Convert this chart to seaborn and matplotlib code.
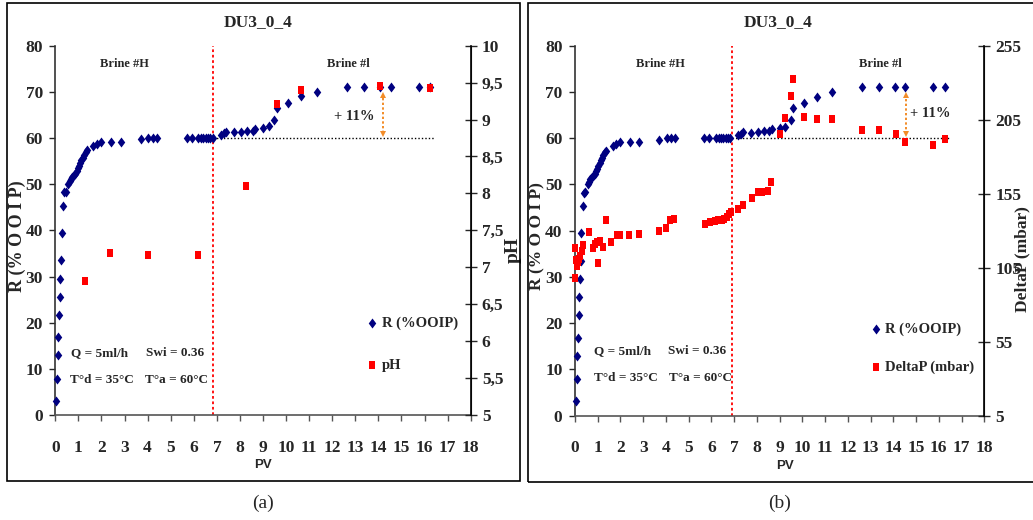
import matplotlib
matplotlib.use("Agg")
import matplotlib.pyplot as plt
import seaborn as sns
import pandas as pd
from matplotlib.patches import Rectangle
from matplotlib.path import Path

# ---------------- data ----------------
pv_r = [0.04, 0.07, 0.10, 0.13, 0.16, 0.19, 0.22, 0.25, 0.27, 0.33, 0.39, 0.45,
        0.56, 0.62, 0.68, 0.74, 0.80, 0.86, 0.92, 0.98, 1.03, 1.08, 1.13, 1.18, 1.25, 1.32, 1.38,
        1.65, 1.79, 1.98, 2.40, 2.83, 3.70, 4.03, 4.22, 4.39, 5.69, 5.91, 6.20, 6.32, 6.42,
        6.52, 6.62, 6.72, 6.82,
        7.18, 7.30, 7.40, 7.76, 8.03, 8.30, 8.55, 8.66, 9.00, 9.25, 9.49, 9.60, 10.08, 10.63,
        11.32, 12.63, 13.38, 14.08, 14.53, 15.76, 16.25]
r_ooip = [3.1, 7.9, 12.9, 16.8, 21.7, 25.6, 29.5, 33.5, 39.4, 45.3, 48.2, 48.4,
          50.1, 50.6, 51.1, 51.5, 51.9, 52.3, 52.8, 53.4, 54.0, 54.6, 55.2, 55.7, 56.3, 56.9, 57.3,
          58.3, 58.7, 59.2, 59.1, 59.1, 59.7, 60.0, 60.0, 60.0, 60.0, 60.0, 60.0, 60.0, 60.0,
          60.0, 60.0, 60.0, 60.0,
          60.7, 61.0, 61.3, 61.2, 61.3, 61.5, 61.6, 62.0, 62.2, 62.5, 64.0, 66.5, 67.5, 69.0,
          70.0, 71.0, 71.0, 71.0, 71.0, 71.0, 71.0]

pv_ph = [1.30, 2.38, 4.00, 6.17, 8.25, 9.59, 10.63, 14.08, 16.23]
ph = [6.81, 7.19, 7.16, 7.16, 8.10, 9.21, 9.40, 9.45, 9.43]

pv_dp = [0.00, 0.00, 0.03, 0.08, 0.12, 0.18, 0.22, 0.29, 0.37, 0.63, 0.80, 0.88, 0.95, 0.99,
         1.10, 1.25, 1.36, 1.58, 1.83, 1.98, 2.39, 2.83, 3.71, 4.00, 4.18, 4.37,
         5.72, 5.94, 6.16, 6.30, 6.45, 6.55, 6.67, 6.79, 6.86,
         7.18, 7.40, 7.77, 8.03, 8.24, 8.50, 8.62,
         9.01, 9.23, 9.48, 9.60, 10.08, 10.63, 11.32, 12.63, 13.38, 14.10, 14.51, 15.76, 16.27]
dp = [98, 118, 110, 106, 109, 111, 113, 116, 120, 129, 118, 121, 122, 108,
      123, 119, 137, 122, 127, 127, 127, 128, 129.5, 132, 137, 138,
      134.5, 135.6, 136.8, 137.2, 137.4, 138, 139.5, 141.3, 142.4,
      144.7, 147.6, 152, 156.4, 156.4, 157, 162.6,
      195.3, 206.1, 221.2, 232.5, 207, 205.5, 205.5, 198, 198, 195.3, 190.1, 188.1, 192]

x_ticks = list(range(0, 19))
r_ticks = [0, 10, 20, 30, 40, 50, 60, 70, 80]
ph_ticks = [5, 5.5, 6, 6.5, 7, 7.5, 8, 8.5, 9, 9.5, 10]
ph_tick_labels = ["5", "5,5", "6", "6,5", "7", "7,5", "8", "8,5", "9", "9,5", "10"]
dp_ticks = [5, 55, 105, 155, 205, 255]
dp_tick_labels = ["5", "55", "105", "155", "205", "255"]

df_r = pd.DataFrame({"PV": pv_r, "R": r_ooip})
df_ph = pd.DataFrame({"PV": pv_ph, "pH": ph})
df_dp = pd.DataFrame({"PV": pv_dp, "DeltaP": dp})

# ---------------- style ----------------
sns.set_style("ticks")
plt.rcParams["font.family"] = ["Liberation Serif", "DejaVu Serif"]
plt.rcParams["font.weight"] = "bold"

W, H = 1033, 520
fig = plt.figure(figsize=(W / 100, H / 100), dpi=100)

NAVY = "#000080"
RED = "#FF0000"
ORANGE = "#F28C28"
diamond = Path([(0, 1), (0.75, 0), (0, -1), (-0.75, 0), (0, 1)])
square = Path([(-0.85, -1), (0.85, -1), (0.85, 1), (-0.85, 1), (-0.85, -1)])


def axes_rect(l, r, b, t):
    return [l / W, 1 - b / H, (r - l) / W, (b - t) / H]


def setup_panel(rect, right_df, right_col, right_lim, right_ticks, right_labels, right_name,
                leg_label, cfg):
    ax = fig.add_axes(rect)
    sns.scatterplot(data=df_r, x="PV", y="R", ax=ax, marker=diamond, s=52, color=NAVY,
                    linewidth=0, clip_on=False, zorder=3, label="R (%OOIP)", legend=False)
    ax2 = ax.twinx()
    sns.scatterplot(data=right_df, x="PV", y=right_col, ax=ax2, marker=square, s=34, color=RED,
                    linewidth=0, clip_on=False, zorder=4, label=leg_label, legend=False)

    ax.set_xlim(0, 18)
    ax.set_ylim(0, 80)
    ax2.set_ylim(*right_lim)
    ax.set_xticks(x_ticks)
    ax.set_xticklabels([str(t) for t in x_ticks])
    ax.set_yticks(r_ticks)
    ax2.set_yticks(right_ticks)
    ax2.set_yticklabels(right_labels)

    for a in (ax, ax2):
        a.spines["top"].set_visible(False)
    ax.spines["left"].set_color("#333333")
    ax.spines["bottom"].set_color("#555555")
    ax2.spines["right"].set_color("black")
    ax2.spines["left"].set_visible(False)
    ax2.spines["bottom"].set_visible(False)
    for s in ("left", "bottom"):
        ax.spines[s].set_linewidth(1.2)
    ax2.spines["right"].set_linewidth(1.2)

    ax.tick_params(axis="x", direction="out", length=4, width=1, pad=14, labelsize=12.5,
                   color="#555555")
    ax.tick_params(axis="y", direction="out", length=4, width=1, pad=5, labelsize=12.5)
    ax2.tick_params(axis="y", direction="inout", length=8, width=1, pad=4, labelsize=12.5)
    ax.grid(False)
    ax2.grid(False)

    ax.set_xlabel("PV", fontfamily="Liberation Sans", fontweight="bold", fontsize=9.5)
    ax.xaxis.set_label_coords(cfg["pv_x"], -0.12)
    ax.set_ylabel("R (% O O I P)", fontsize=cfg["llabel_fs"], fontweight="bold")
    ax.yaxis.set_label_coords(cfg["llabel_x"], 0.485)
    ax2.set_ylabel(right_name, fontsize=cfg["rlabel_fs"], fontweight="bold", rotation=90)
    ax2.yaxis.set_label_coords(cfg["rlabel_x"], cfg["rlabel_y"])

    # vertical separator between brines
    ax.axvline(cfg["sep"], color=RED, linestyle=(0, (1.5, 1.5)), linewidth=1.3, zorder=2)
    # baseline at 60 %
    ax.plot([cfg["sep"], cfg["base_end"]], [60, 60], color="black",
            linestyle=(0, (1, 1.5)), linewidth=1.0, zorder=2)
    # +11% arrow
    xa = cfg["arrow_x"]
    ax.plot([xa, xa], [61.0, 69.0], color=ORANGE, linestyle=(0, (1.2, 1.2)), linewidth=1.4,
            zorder=2)
    ax.plot([xa], [69.4], marker="^", ms=4.5, color=ORANGE, mew=0, zorder=2)
    ax.plot([xa], [60.8], marker="v", ms=4.5, color=ORANGE, mew=0, zorder=2)
    ax.text(cfg["pct"][0], cfg["pct"][1], "+ 11%", ha="center", va="center", fontsize=10.5)

    ax.text(cfg["brH"], 76.1, "Brine #H", ha="center", va="center", fontsize=9)
    ax.text(cfg["brI"], 76.1, "Brine #l", ha="center", va="center", fontsize=9)

    ax.text(cfg["q"][0], cfg["q"][1], "Q = 5ml/h", ha="center", va="center", fontsize=9.5)
    ax.text(cfg["swi"][0], cfg["q"][1], "Swi = 0.36", ha="center", va="center", fontsize=9.5)
    ax.text(cfg["td"][0], cfg["td"][1], "T°d = 35°C", ha="center", va="center", fontsize=9.5)
    ax.text(cfg["ta"][0], cfg["td"][1], "T°a = 60°C", ha="center", va="center", fontsize=9.5)

    h1, l1 = ax.get_legend_handles_labels()
    h2, l2 = ax2.get_legend_handles_labels()
    ax2.legend(h1 + h2, l1 + l2, loc="center left", bbox_to_anchor=cfg["leg"],
               frameon=False, fontsize=10.5, handlelength=1.0, handletextpad=0.15,
               labelspacing=cfg["legsp"], borderpad=0, borderaxespad=0)
    return ax, ax2


cfg_a = dict(pv_x=0.5, llabel_x=-0.0705, llabel_fs=13, rlabel_x=1.083, rlabel_y=0.447,
             rlabel_fs=14, sep=6.85, base_end=16.4, arrow_x=14.2,
             pct=(12.94, 64.6), brH=2.98, brI=12.68, q=(1.9, 13.5), swi=(5.17,),
             td=(2.03, 7.5), ta=(5.25,), leg=(0.745, 0.192), legsp=2.0)
cfg_b = dict(pv_x=0.513, llabel_x=-0.0735, llabel_fs=12.5, rlabel_x=1.074, rlabel_y=0.423,
             rlabel_fs=12.5, sep=6.92, base_end=16.5, arrow_x=14.55,
             pct=(15.61, 65.4), brH=3.74, brI=13.41, q=(2.09, 14.0), swi=(5.36,),
             td=(2.24, 8.1), ta=(5.5,), leg=(0.7176, 0.1825), legsp=1.7)

setup_panel(axes_rect(55.3, 470.7, 415, 45.7), df_ph, "pH", (5, 10), ph_ticks,
            ph_tick_labels, "pH", "pH", cfg_a)
setup_panel(axes_rect(575, 984.3, 415.5, 45.7), df_dp, "DeltaP", (5, 255), dp_ticks,
            dp_tick_labels, "DeltaP (mbar)", "DeltaP (mbar)", cfg_b)

# titles, panel frames and captions
fig.text(258 / W, 1 - 22 / H, "DU3_0_4", ha="center", va="center", fontsize=12.5)
fig.text(778 / W, 1 - 22 / H, "DU3_0_4", ha="center", va="center", fontsize=12.5)
fig.add_artist(Rectangle((7 / W, 1 - 481 / H), 513 / W, 478 / H, transform=fig.transFigure,
                         fill=False, lw=1.2, ec="black"))
fig.add_artist(Rectangle((528 / W, 1 - 482 / H), 520 / W, 479 / H, transform=fig.transFigure,
                         fill=False, lw=1.2, ec="black"))
fig.text(263 / W, 1 - 503 / H, "(a)", ha="center", va="center", fontsize=14,
         fontweight="normal")
fig.text(780 / W, 1 - 503 / H, "(b)", ha="center", va="center", fontsize=14,
         fontweight="normal")

fig.savefig("out.png", dpi=100)
